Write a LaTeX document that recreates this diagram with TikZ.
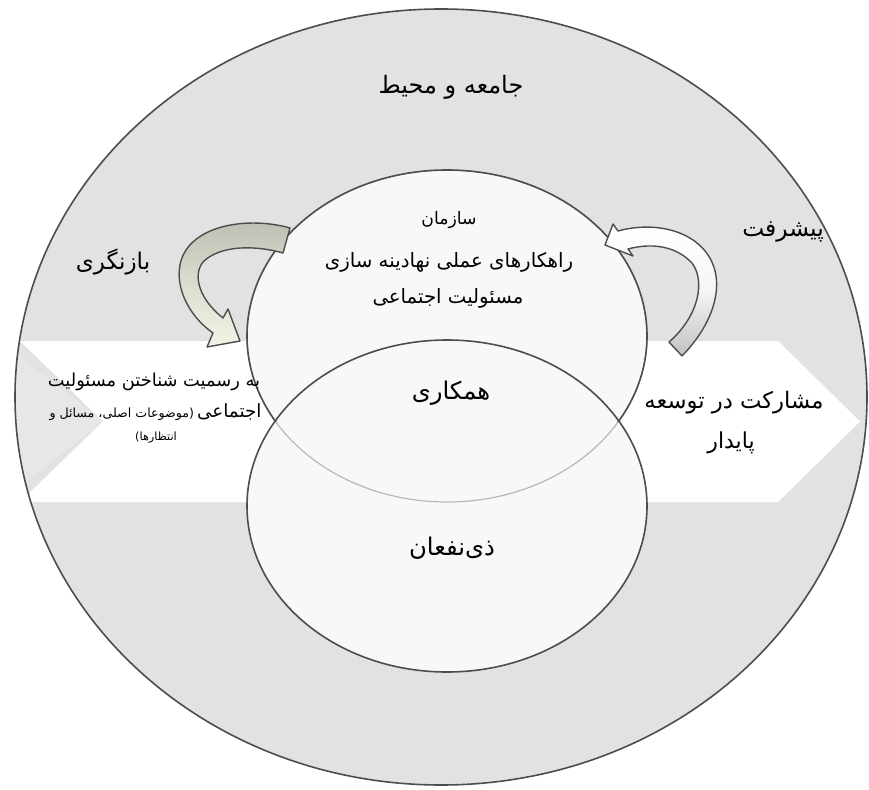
\documentclass[tikz,border=0pt]{standalone}
\usepackage{fontspec}
\newfontfamily\fa[Script=Arabic]{DejaVu Sans}
\TeXXeTstate=1
\definecolor{ringgray}{HTML}{E2E2E2}
\definecolor{notchgray}{HTML}{E7E7E7}
\definecolor{edgegray}{HTML}{4D4D4D}
\definecolor{innerfill}{HTML}{F8F8F8}
\definecolor{faintline}{HTML}{B8B8B8}
\definecolor{lgray}{HTML}{BDBDB3}
\definecolor{lcream}{HTML}{F4F4E6}
\definecolor{rgray}{HTML}{C2C2C2}
\newcommand{\fsz}[1]{\fontsize{#1}{#1}\selectfont}
\tikzset{
  lbl/.style={inner sep=0pt, anchor=center, text=black},
  ringline/.style={draw=edgegray, line width=1.6pt},
  bentarrow/.style={draw=edgegray, line width=1.4pt, line join=round},
}
\begin{document}
\begin{tikzpicture}[x=1pt,y=-1pt]
\useasboundingbox (0,0) rectangle (869,789);
\fill[white] (0,0) rectangle (869,789);
% outer ring
\fill[ringgray] (441,397) ellipse [x radius=426pt, y radius=388pt];
\begin{scope}
  \clip (441,397) ellipse [x radius=426pt, y radius=388pt];
  \fill[notchgray] (0,341) -- (103,421.5) -- (0,502) -- cycle;
  \fill[white] (20,341) -- (778,341) -- (860,421.5) -- (778,502) -- (20,502) -- (103,421.5) -- cycle;
\end{scope}
\draw[ringline] (441,397) ellipse [x radius=426pt, y radius=388pt];
% inner circles
\fill[innerfill] (447,336) ellipse [x radius=200pt, y radius=166pt];
\fill[innerfill] (447,506) ellipse [x radius=200pt, y radius=166pt];
\draw[faintline, line width=1.2pt] (447,336) ellipse [x radius=200pt, y radius=166pt];
\begin{scope}
  \clip (0,0) rectangle (869,421);
  \draw[ringline] (447,336) ellipse [x radius=200pt, y radius=166pt];
\end{scope}
\draw[ringline] (447,506) ellipse [x radius=200pt, y radius=166pt];
% left bent arrow
\path[bentarrow, top color=lgray, bottom color=lcream, middle color=lcream!55!lgray]
  (290,228) .. controls (255,218) and (205,222) .. (186,250)
  .. controls (170,274) and (183,312) .. (213,333)
  -- (207,347) -- (240,341) -- (228,309) -- (223,318)
  .. controls (200,300) and (192,276) .. (203,262)
  .. controls (220,245) and (255,245) .. (283,253) -- cycle;
% right bent arrow
\path[bentarrow, top color=white, bottom color=rgray, middle color=white!85!rgray]
  (682,356) .. controls (715,322) and (726,282) .. (708,255)
  .. controls (690,228) and (650,222) .. (618,231)
  -- (613,224) -- (605,245) -- (633,256) -- (628,249)
  .. controls (650,243) and (675,245) .. (692,263)
  .. controls (705,280) and (700,315) .. (669,342) -- cycle;
% texts
\node[lbl, font=\fa\fsz{24}] (env) at (451,87) {\beginR جامعه و محیط\endR};
\node[lbl, font=\fa\fsz{23}] (review) at (113,262) {\beginR بازنگری\endR};
\node[lbl, font=\fa\fsz{23.4}] (progress) at (783,232) {\beginR پیشرفت\endR};
\node[lbl, font=\fa\fsz{17.2}] (org) at (449,220) {\beginR سازمان\endR};
\node[lbl, font=\fa\fsz{19.8}] (orgb) at (449,262) {\beginR راهکارهای عملی نهادینه سازی\endR};
\node[lbl, font=\fa\fsz{19.7}] (orgc) at (448,298) {\beginR مسئولیت اجتماعی\endR};
\node[lbl, font=\fa\fsz{24.3}] (coop) at (451,393) {\beginR همکاری\endR};
\node[lbl, font=\fa\fsz{24.3}] (stake) at (452,548) {\beginR ذی^^^^200cنفعان\endR};
\node[lbl, font=\fa\fsz{22.7}] (part) at (734,403) {\beginR مشارکت در توسعه\endR};
\node[lbl, font=\fa\fsz{22}] (partb) at (731,443) {\beginR پایدار\endR};
\node[lbl, font=\fa\fsz{17.8}] (recog) at (154,382) {\beginR به رسمیت شناختن مسئولیت\endR};
\node[lbl, font=\fa] (recogb) at (155.5,412) {\beginR{\fsz{18.3}اجتماعی} {\fsz{12.6}(موضوعات اصلی، مسائل و}\endR};
\node[lbl, font=\fa\fsz{11.3}] (recogc) at (156,438) {\beginR انتظارها)\endR};
\end{tikzpicture}
\end{document}
